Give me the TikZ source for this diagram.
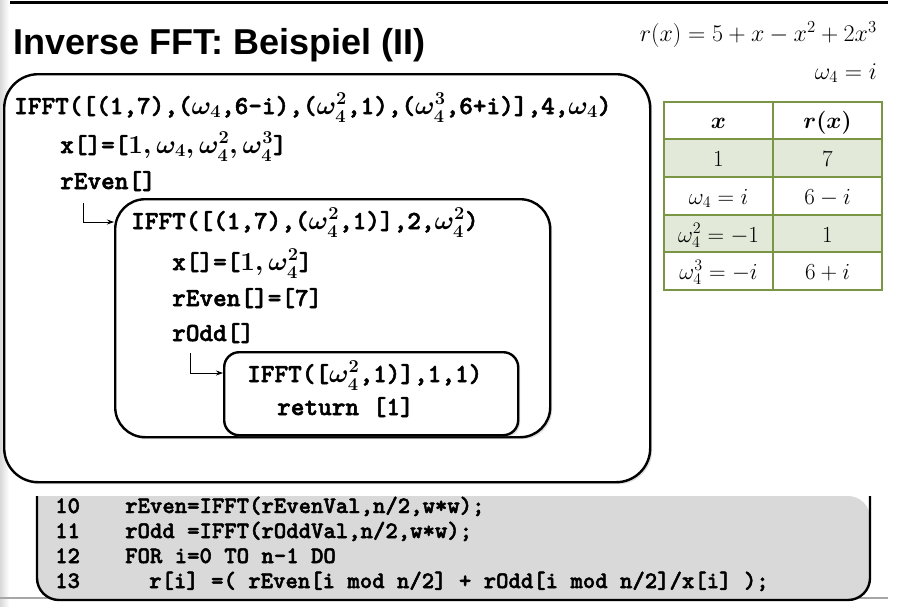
\RequirePackage{fix-cm}
\documentclass[tikz,border=0pt]{standalone}
\usepackage{fontspec}
\setsansfont{Liberation Sans}
\newfontfamily\codefont{lmmonolt10-bold.otf}[FakeBold=2]
\usetikzlibrary{arrows.meta,shadows}
\definecolor{tblgreen}{RGB}{122,150,68}
\definecolor{tblfill}{RGB}{226,233,216}
\definecolor{codegray}{RGB}{217,217,217}

\begin{document}
\begin{tikzpicture}[x=1pt,y=-1pt,
  callbox/.style={draw=black, line width=2.4pt, fill=white, rounded corners=#1,
    inner sep=0pt, anchor=north west,
    drop shadow={opacity=0.25, shadow xshift=2pt, shadow yshift=-2pt}},
  code/.style={anchor=base west, inner sep=0pt,
    font={\codefont\boldmath\fontsize{26}{30}\selectfont}},
  listing/.style={anchor=base west, inner sep=0pt,
    font={\codefont\fontsize{23.6}{28}\selectfont}},
  cell/.style={anchor=base, inner sep=0pt, font={\fontsize{23}{27}\selectfont}},
  headcell/.style={anchor=base, inner sep=0pt, font={\boldmath\fontsize{23}{27}\selectfont}},
  formula/.style={anchor=base east, inner sep=0pt, font={\fontsize{24}{28}\selectfont}},
  arr/.style={line width=0.8pt, -{Stealth[length=7pt,width=5pt]}}
]
\useasboundingbox (0,0) rectangle (901,606);

% page edge and header rule
\shade[left color=black!15, right color=white] (0,0) rectangle (9,606);
\draw[line width=3pt] (10,2) -- (888,2);

% title and polynomial
\node[anchor=base west, inner sep=0pt, font={\sffamily\bfseries\fontsize{36}{43}\selectfont}]
  (title) at (13,54) {Inverse FFT: Beispiel (II)};
\node[formula] (poly) at (877,41) {$r(x)=5+x-x^2+2x^3$};
\node[formula] (root) at (877,79) {$\omega_4=i$};

% recursion frames
\node[callbox=34, minimum width=646pt, minimum height=408pt] (outer) at (3,73) {};
\node[code] (call1) at (14,114) {IFFT([(1,7),($\omega_4$,6-i),($\omega_4^2$,1),($\omega_4^3$,6+i)],4,$\omega_4$)};
\node[code] (x1) at (60,153) {x[]=[$1,\omega_4,\omega_4^2,\omega_4^3$]};
\node[code] (reven1) at (60,189) {rEven[]};

\node[callbox=30, minimum width=435pt, minimum height=238pt] (box2) at (114,198) {};
\node[code] (call2) at (131,229) {IFFT([(1,7),($\omega_4^2$,1)],2,$\omega_4^2$)};
\node[code] (x2) at (172,270) {x[]=[$1,\omega_4^2$]};
\node[code] (reven2) at (172,306) {rEven[]=[7]};
\node[code] (rodd2) at (172,341) {rOdd[]};

\node[callbox=15, minimum width=294pt, minimum height=83pt] (box3) at (223,351) {};
\node[code] (call3) at (247,382) {IFFT([$\omega_4^2$,1)],1,1)};
\node[code] (ret3) at (277,415) {return [1]};

\draw[arr] ([xshift=23pt,yshift=-12pt]reven1.south west) |- ([yshift=-24pt]box2.north west);
\draw[arr] ([xshift=18pt,yshift=-10pt]rodd2.south west) |- ([yshift=-22pt]box3.north west);

% value table
\fill[tblfill] (664,139) rectangle (882,177);
\fill[tblfill] (664,215) rectangle (882,252);
\draw[tblgreen, line width=1.2pt] (664,102) rectangle (882,290);
\draw[tblgreen, line width=1.2pt] (773,102) -- (773,290);
\draw[tblgreen, line width=2pt] (664,139) -- (882,139);
\draw[tblgreen, line width=1.2pt] (664,177) -- (882,177);
\draw[tblgreen, line width=1.2pt] (664,215) -- (882,215);
\draw[tblgreen, line width=1.2pt] (664,252) -- (882,252);
\node[headcell] (hx) at (718.5,128) {$x$};
\node[headcell] (hr) at (827.5,128) {$r(x)$};
\node[cell] (c11) at (718.5,166) {$1$};
\node[cell] (c12) at (827.5,166) {$7$};
\node[cell] (c21) at (718.5,204) {$\omega_4=i$};
\node[cell] (c22) at (827.5,204) {$6-i$};
\node[cell] (c31) at (718.5,242) {$\omega_4^2=-1$};
\node[cell] (c32) at (827.5,242) {$1$};
\node[cell] (c41) at (718.5,279) {$\omega_4^3=-i$};
\node[cell] (c42) at (827.5,279) {$6+i$};

% code excerpt
\draw[gray!70, line width=1.5pt] (0,598) -- (888,598);
\fill[codegray, rounded corners=22pt] (37,496) -- (37,600) -- (870,600) -- (870,496) [sharp corners] -- cycle;
\draw[line width=2.4pt, rounded corners=22pt] (37,496) -- (37,600) -- (870,600) -- (870,496);
\node[listing] (n10) at (55,513) {10};
\node[listing] (n11) at (55,538) {11};
\node[listing] (n12) at (55,563) {12};
\node[listing] (n13) at (55,588) {13};
\node[listing] (l10) at (125,513) {rEven=IFFT(rEvenVal,n/2,w*w);};
\node[listing] (l11) at (125,538) {rOdd =IFFT(rOddVal,n/2,w*w);};
\node[listing] (l12) at (125,563) {FOR i=0 TO n-1 DO};
\node[listing] (l13) at (149,588) {r[i] =( rEven[i mod n/2] + rOdd[i mod n/2]/x[i] );};
\end{tikzpicture}
\end{document}
